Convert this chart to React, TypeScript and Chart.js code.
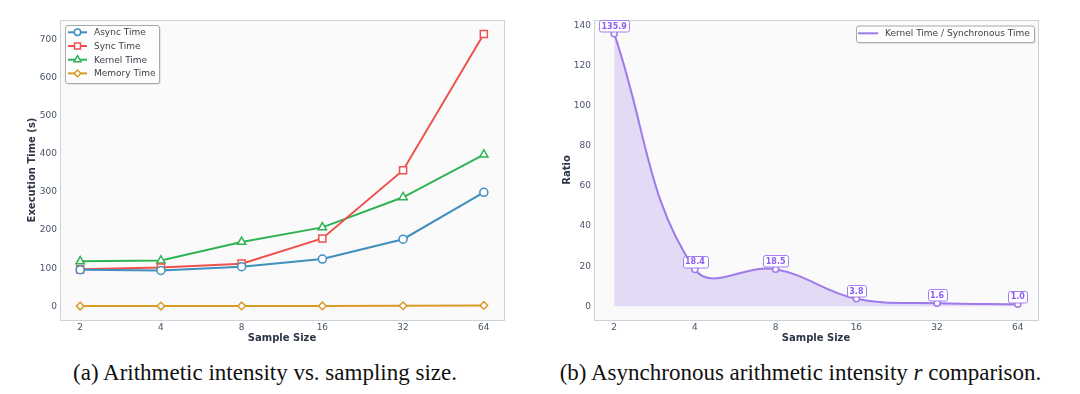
import React, { useEffect, useRef } from 'react';
import { Chart, registerables } from 'chart.js';

Chart.register(...registerables);

// ---------- data ----------
const categories = ['2', '4', '8', '16', '32', '64'];
const asyncTime = [96, 94, 104, 124, 176, 299];
const syncTime = [97, 102, 112, 178, 357, 714];
const kernelTime = [118, 120, 169, 207, 286, 398];
const memoryTime = [0.7, 0.9, 1.0, 1.2, 1.6, 2.4];
const leftYTicks = [0, 100, 200, 300, 400, 500, 600, 700];

const ratioValues = [135.9, 18.4, 18.5, 3.8, 1.6, 1.0];
const rightYTicks = [0, 20, 40, 60, 80, 100, 120, 140];

const FONT = "'DejaVu Sans', sans-serif";
const TICK_COLOR = '#4a5568';
const TITLE_COLOR = '#2d3748';

function roundRect(ctx: CanvasRenderingContext2D, x: number, y: number, w: number, h: number, r: number) {
  ctx.beginPath();
  ctx.moveTo(x + r, y);
  ctx.lineTo(x + w - r, y);
  ctx.arcTo(x + w, y, x + w, y + r, r);
  ctx.lineTo(x + w, y + h - r);
  ctx.arcTo(x + w, y + h, x + w - r, y + h, r);
  ctx.lineTo(x + r, y + h);
  ctx.arcTo(x, y + h, x, y + h - r, r);
  ctx.lineTo(x, y + r);
  ctx.arcTo(x, y, x + r, y, r);
  ctx.closePath();
}

function drawMarker(ctx: CanvasRenderingContext2D, style: string, x: number, y: number, r: number, color: string) {
  ctx.save();
  ctx.fillStyle = '#fff';
  ctx.strokeStyle = color;
  ctx.lineWidth = 1.5;
  ctx.beginPath();
  if (style === 'circle') {
    ctx.arc(x, y, r, 0, Math.PI * 2);
  } else if (style === 'rect') {
    const s = r * Math.SQRT1_2;
    ctx.rect(x - s, y - s, 2 * s, 2 * s);
  } else if (style === 'triangle') {
    ctx.moveTo(x, y - r);
    ctx.lineTo(x + r * 0.866, y + r * 0.5);
    ctx.lineTo(x - r * 0.866, y + r * 0.5);
    ctx.closePath();
  } else if (style === 'rectRot') {
    ctx.moveTo(x, y - r);
    ctx.lineTo(x + r, y);
    ctx.lineTo(x, y + r);
    ctx.lineTo(x - r, y);
    ctx.closePath();
  }
  ctx.fill();
  ctx.stroke();
  ctx.restore();
}

const plotFrame = {
  id: 'plotFrame',
  beforeDraw(chart: any) {
    const { ctx, chartArea: a } = chart;
    ctx.save();
    ctx.fillStyle = '#fafafa';
    ctx.fillRect(a.left, a.top, a.right - a.left, a.bottom - a.top);
    ctx.strokeStyle = '#cbd2d9';
    ctx.lineWidth = 1;
    ctx.strokeRect(Math.round(a.left) + 0.5, Math.round(a.top) + 0.5, Math.round(a.right - a.left), Math.round(a.bottom - a.top));
    ctx.restore();
  },
};

const boxLegend = {
  id: 'boxLegend',
  afterDraw(chart: any, _args: any, opts: any) {
    if (!opts || !opts.display) return;
    const { ctx } = chart;
    const { x, y, width, height, firstRow, rowHeight, padLeft, lineLen, textGap, markers } = opts;
    ctx.save();
    ctx.fillStyle = 'rgba(0,0,0,0.16)';
    roundRect(ctx, x + 1.5, y + 1.5, width, height, 2.5);
    ctx.fill();
    ctx.fillStyle = 'rgba(255,255,255,0.96)';
    roundRect(ctx, x + 0.5, y + 0.5, width, height, 2.5);
    ctx.fill();
    ctx.strokeStyle = '#a8a8a8';
    ctx.lineWidth = 1;
    ctx.stroke();
    chart.data.datasets.forEach((ds: any, i: number) => {
      const cy = y + firstRow + i * rowHeight;
      const x0 = x + padLeft;
      ctx.strokeStyle = ds.borderColor;
      ctx.lineWidth = 2;
      ctx.beginPath();
      ctx.moveTo(x0, cy);
      ctx.lineTo(x0 + lineLen, cy);
      ctx.stroke();
      if (markers) drawMarker(ctx, ds.pointStyle, x0 + lineLen / 2, cy, ds.legendMarkerRadius || 3.5, ds.borderColor);
      ctx.fillStyle = '#3a3f47';
      ctx.font = `9px ${FONT}`;
      ctx.textAlign = 'left';
      ctx.textBaseline = 'middle';
      ctx.fillText(ds.label, x0 + lineLen + textGap, cy + 0.5);
    });
    ctx.restore();
  },
};

const valueLabels = {
  id: 'valueLabels',
  afterDatasetsDraw(chart: any, _args: any, opts: any) {
    if (!opts || !opts.display) return;
    const { ctx } = chart;
    const meta = chart.getDatasetMeta(0);
    const data = chart.data.datasets[0].data;
    ctx.save();
    ctx.font = `bold 8px ${FONT}`;
    meta.data.forEach((pt: any, i: number) => {
      const v = typeof data[i] === 'object' ? data[i].y : data[i];
      const text = Number(v).toFixed(1);
      const tw = ctx.measureText(text).width;
      const w = tw + 5;
      const h = 11.5;
      const cx = pt.x;
      const cy = pt.y - 8;
      roundRect(ctx, Math.round(cx - w / 2) + 0.5, Math.round(cy - h / 2) + 0.5, Math.round(w), h, 2);
      ctx.fillStyle = '#ffffff';
      ctx.fill();
      ctx.strokeStyle = '#a57ff0';
      ctx.lineWidth = 1;
      ctx.stroke();
      ctx.fillStyle = '#8b5cf6';
      ctx.textAlign = 'center';
      ctx.textBaseline = 'middle';
      ctx.fillText(text, cx, cy + 0.8);
    });
    ctx.restore();
  },
};

function xAxis() {
  return {
    type: 'linear' as const,
    min: -0.25,
    max: 5.25,
    afterBuildTicks: (s: any) => {
      s.ticks = categories.map((_, i) => ({ value: i }));
    },
    afterFit: (s: any) => {
      s.height = 25;
    },
    ticks: {
      callback: (v: any) => categories[v] ?? '',
      font: { family: FONT, size: 9 },
      color: TICK_COLOR,
      padding: 2,
      maxRotation: 0,
      autoSkip: false,
    },
    grid: { display: false, drawTicks: false },
    border: { display: false },
    title: {
      display: true,
      text: 'Sample Size',
      font: { family: FONT, size: 10, weight: 'bold' as const },
      color: TITLE_COLOR,
      padding: { top: 0, bottom: 1 },
    },
  };
}

function yAxis(min: number, max: number, ticks: number[], width: number, title: string, titlePad: number) {
  return {
    type: 'linear' as const,
    min,
    max,
    afterBuildTicks: (s: any) => {
      s.ticks = ticks.map((v) => ({ value: v }));
    },
    afterFit: (s: any) => {
      s.width = width;
    },
    ticks: {
      font: { family: FONT, size: 9 },
      color: TICK_COLOR,
      padding: 3,
    },
    grid: { display: false, drawTicks: false },
    border: { display: false },
    title: {
      display: true,
      text: title,
      font: { family: FONT, size: 10, weight: 'bold' as const },
      color: TITLE_COLOR,
      padding: { top: titlePad, bottom: 0 },
    },
  };
}

function toXY(vals: number[]) {
  return vals.map((v, i) => ({ x: i, y: v }));
}

function LeftChart() {
  const ref = useRef<HTMLCanvasElement | null>(null);
  useEffect(() => {
    if (!ref.current) return;
    const mk = (label: string, vals: number[], color: string, style: string, r: number, lr: number) => ({
      label,
      data: toXY(vals),
      borderColor: color,
      backgroundColor: '#ffffff',
      pointBackgroundColor: '#ffffff',
      pointBorderColor: color,
      pointBorderWidth: 1.5,
      pointStyle: style,
      pointRadius: r,
      borderWidth: 2,
      tension: 0,
      legendMarkerRadius: lr,
    });
    const chart = new Chart(ref.current, {
      type: 'line',
      data: {
        datasets: [
          mk('Async Time', asyncTime, '#3f8fbf', 'circle', 4, 3.2),
          mk('Sync Time', syncTime, '#f0504d', 'rect', 5, 4.2),
          mk('Kernel Time', kernelTime, '#2fb354', 'triangle', 4.8, 4),
          mk('Memory Time', memoryTime, '#d99a26', 'rectRot', 3.8, 3.4),
        ] as any,
      },
      options: {
        responsive: false,
        animation: false,
        devicePixelRatio: 1,
        layout: { padding: { left: 0, top: 20, right: 36, bottom: 0 } },
        scales: {
          x: xAxis(),
          y: yAxis(-35.75, 750.75, leftYTicks, 60, 'Execution Time (s)', 26),
        },
        plugins: {
          legend: { display: false },
          tooltip: { enabled: false },
          boxLegend: {
            display: true,
            x: 65,
            y: 25,
            width: 94,
            height: 58,
            firstRow: 7.3,
            rowHeight: 13.7,
            padLeft: 3,
            lineLen: 19,
            textGap: 7,
            markers: true,
          },
        } as any,
      },
      plugins: [plotFrame, boxLegend],
    });
    return () => chart.destroy();
  }, []);
  return <canvas ref={ref} width={540} height={345} style={{ position: 'absolute', left: 0, top: 0, width: 540, height: 345 }} />;
}

function RightChart() {
  const ref = useRef<HTMLCanvasElement | null>(null);
  useEffect(() => {
    if (!ref.current) return;
    const chart = new Chart(ref.current, {
      type: 'line',
      data: {
        datasets: [
          {
            label: 'Kernel Time / Synchronous Time',
            data: toXY(ratioValues),
            borderColor: '#9f7aea',
            backgroundColor: 'rgba(159,122,234,0.25)',
            fill: 'origin',
            pointBackgroundColor: '#ffffff',
            pointBorderColor: '#9f7aea',
            pointBorderWidth: 1.5,
            pointRadius: 3,
            pointStyle: 'circle',
            borderWidth: 2,
            tension: 0.4,
            cubicInterpolationMode: 'default',
          },
        ] as any,
      },
      options: {
        responsive: false,
        animation: false,
        devicePixelRatio: 1,
        layout: { padding: { left: 0, top: 20, right: 42, bottom: 0 } },
        scales: {
          x: xAxis(),
          y: yAxis(-6.8, 142.7, rightYTicks, 54, 'Ratio', 21),
        },
        plugins: {
          legend: { display: false },
          tooltip: { enabled: false },
          filler: { propagate: false },
          boxLegend: {
            display: true,
            x: 316,
            y: 25.5,
            width: 178,
            height: 16.6,
            firstRow: 7.8,
            rowHeight: 13.7,
            padLeft: 2,
            lineLen: 20,
            textGap: 7,
            markers: false,
          },
          valueLabels: { display: true },
        } as any,
      },
      plugins: [plotFrame, boxLegend, valueLabels],
    });
    return () => chart.destroy();
  }, []);
  return <canvas ref={ref} width={540} height={345} style={{ position: 'absolute', left: 540, top: 0, width: 540, height: 345 }} />;
}

const captionStyle: React.CSSProperties = {
  position: 'absolute',
  top: 359.5,
  fontFamily: "'Liberation Serif', 'Times New Roman', serif",
  fontSize: 23,
  lineHeight: '26px',
  color: '#111',
  whiteSpace: 'nowrap',
  transform: 'translateX(-50%)',
};

export default function App() {
  return (
    <div style={{ position: 'fixed', left: 0, top: 0, width: 1080, height: 394, background: '#ffffff', overflow: 'hidden' }}>
      <LeftChart />
      <RightChart />
      <div style={{ ...captionStyle, left: 265 }}>(a) Arithmetic intensity vs. sampling size.</div>
      <div style={{ ...captionStyle, left: 800.5 }}>
        (b) Asynchronous arithmetic intensity <i>r</i> comparison.
      </div>
    </div>
  );
}
